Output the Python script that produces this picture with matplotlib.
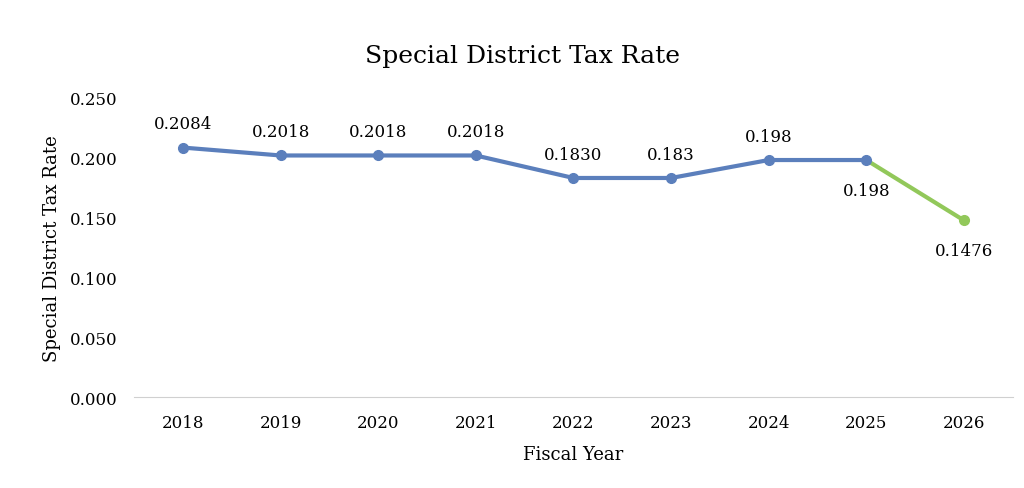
import matplotlib.pyplot as plt

years = ['2018', '2019', '2020', '2021', '2022', '2023', '2024', '2025', '2026']
rates = [0.2084, 0.2018, 0.2018, 0.2018, 0.1830, 0.183, 0.198, 0.198, 0.1476]
labels = ['0.2084', '0.2018', '0.2018', '0.2018', '0.1830', '0.183', '0.198', '0.198', '0.1476']
label_above = [True, True, True, True, True, True, True, False, False]

plt.rcParams['font.family'] = ['DejaVu Serif']

blue = '#5b7fbc'
green = '#92c85a'

fig = plt.figure(figsize=(10.24, 4.89), dpi=100)
ax = fig.add_axes([0.131, 0.186, 0.858, 0.612])

x = list(range(len(years)))
ax.plot(x[:8], rates[:8], color=blue, lw=3, marker='o', ms=7, zorder=3)
ax.plot(x[7:], rates[7:], color=green, lw=3, zorder=2)
ax.plot(x[8], rates[8], color=green, marker='o', ms=7, zorder=3)

for i, (r, lab, up) in enumerate(zip(rates, labels, label_above)):
    dy = 17 if up else -22
    ax.annotate(lab, (i, r), xytext=(0, dy), textcoords='offset points',
                ha='center', va='center', fontsize=12)

ax.set_xlim(-0.5, 8.5)
ax.set_ylim(0, 0.25)
ax.set_yticks([0, 0.05, 0.10, 0.15, 0.20, 0.25])
ax.set_yticklabels(['0.000', '0.050', '0.100', '0.150', '0.200', '0.250'])
ax.set_xticks(x)
ax.set_xticklabels(years)
ax.tick_params(axis='both', length=0, labelsize=12, pad=12)
ax.tick_params(axis='y', pad=12)

for s in ['top', 'right', 'left']:
    ax.spines[s].set_visible(False)
ax.spines['bottom'].set_color('#d0d0d0')

fig.text(0.51, 0.885, 'Special District Tax Rate', fontsize=18, ha='center', va='center')
ax.set_xlabel('Fiscal Year', fontsize=13, labelpad=10)
ax.set_ylabel('Special District Tax Rate', fontsize=13, labelpad=6)

fig.savefig('out.png', dpi=100)
